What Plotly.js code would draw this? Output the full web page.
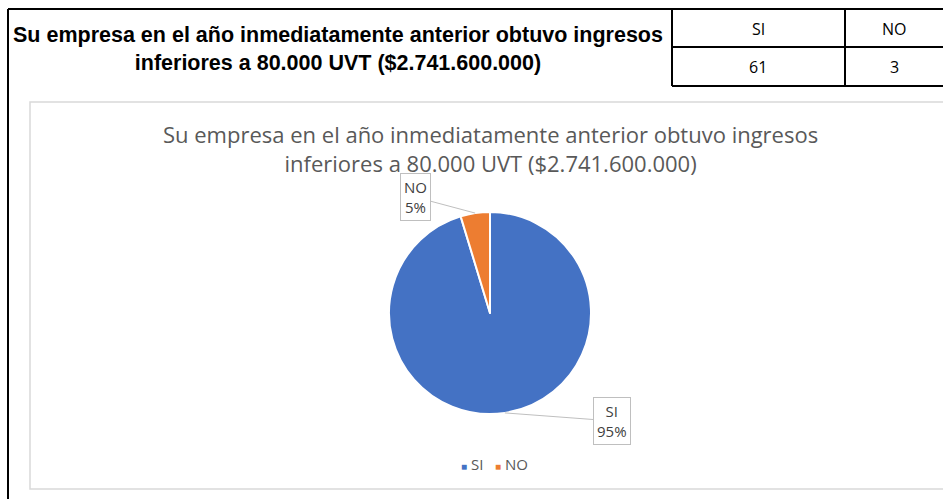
<!DOCTYPE html>
<html><head><meta charset="utf-8">
<script src="https://cdn.plot.ly/plotly-3.0.1.min.js"></script>
<style>html,body{margin:0;padding:0;background:#fff}#c{width:943px;height:499px}</style>
</head><body><div id="c"></div>
<script>
const questionLines = ["Su empresa en el año inmediatamente anterior obtuvo ingresos", "inferiores a 80.000 UVT ($2.741.600.000)"];
const categories = ["SI", "NO"];
const counts = [61, 3];
const colors = ["#4472C4", "#ED7D31"];

const W = 943, H = 499;
const px = x => x / W;
const py = y => 1 - y / H;

const total = counts.reduce((a, b) => a + b, 0);
const pcts = counts.map(v => Math.round(100 * v / total) + "%");

// pie geometry (layout only)
const cx = 490, cy = 313, r = 101;
let acc = 0;
const mids = counts.map(v => { const a0 = acc; acc += v; return ((a0 + v / 2) / total) * 2 * Math.PI; });
const edge = mids.map(a => [cx + r * Math.sin(a), cy - r * Math.cos(a)]);

const trace = {
  type: "pie",
  labels: categories,
  values: counts,
  sort: false,
  direction: "clockwise",
  rotation: 0,
  marker: { colors: colors, line: { color: "#ffffff", width: 2 } },
  textinfo: "none",
  hoverinfo: "none",
  showlegend: false,
  domain: { x: [px(cx - r), px(cx + r)], y: [py(cy + r), py(cy - r)] }
};

const black = { color: "#000000", width: 2 };
const shapes = [
  { type: "line", xref: "paper", yref: "paper", x0: px(8), y0: py(9), x1: px(943), y1: py(9), line: black },
  { type: "line", xref: "paper", yref: "paper", x0: px(8), y0: py(9), x1: px(8), y1: py(499), line: black },
  { type: "line", xref: "paper", yref: "paper", x0: px(672), y0: py(9), x1: px(672), y1: py(86), line: black },
  { type: "line", xref: "paper", yref: "paper", x0: px(845), y0: py(9), x1: px(845), y1: py(86), line: black },
  { type: "line", xref: "paper", yref: "paper", x0: px(672), y0: py(47), x1: px(943), y1: py(47), line: black },
  { type: "line", xref: "paper", yref: "paper", x0: px(672), y0: py(86), x1: px(943), y1: py(86), line: black },
  { type: "rect", xref: "paper", yref: "paper", x0: px(30), y0: py(102), x1: px(960), y1: py(489), line: { color: "#d9d9d9", width: 1.5 } }
];

const cellFont = { family: "Open Sans, sans-serif", size: 16, color: "#000" };
const chartFont = "Open Sans, sans-serif";
const cell = (x, y, t) => ({ xref: "paper", yref: "paper", x: px(x), y: py(y), xanchor: "center", yanchor: "middle", showarrow: false, text: t, font: cellFont });

const legendText = categories.map((c, i) =>
  '<span style="color:' + colors[i] + ';font-size:10px">■</span> ' + c).join("   ");

const annotations = [
  { xref: "paper", yref: "paper", x: px(338), y: py(48.5), xanchor: "center", yanchor: "middle", showarrow: false,
    text: "<b>" + questionLines[0] + "</b><br><b>" + questionLines[1] + "</b>", align: "center",
    font: { family: "Liberation Sans, Arial, sans-serif", size: 21.5, color: "#000" } },
  cell(758, 29, categories[0]),
  cell(894, 29, categories[1]),
  cell(758, 67.5, String(counts[0])),
  cell(894, 67.5, String(counts[1])),
  { xref: "paper", yref: "paper", x: px(490), y: py(148), xanchor: "center", yanchor: "middle", showarrow: false,
    text: questionLines[0] + "<br>" + questionLines[1], align: "center",
    font: { family: chartFont, size: 22, color: "#595959" } },
  { xref: "paper", yref: "paper", x: px(edge[1][0]), y: py(edge[1][1]), ax: -60, ay: -16,
    text: categories[1] + "<br>" + pcts[1], showarrow: true, arrowhead: 0, arrowwidth: 1, arrowcolor: "#bfbfbf",
    bordercolor: "#bfbfbf", borderwidth: 1, borderpad: 3, bgcolor: "#ffffff",
    font: { family: chartFont, size: 15, color: "#404040" } },
  { xref: "paper", yref: "paper", x: px(edge[0][0]), y: py(edge[0][1]), ax: 107, ay: 8,
    text: categories[0] + "<br>" + pcts[0], showarrow: true, arrowhead: 0, arrowwidth: 1, arrowcolor: "#bfbfbf",
    bordercolor: "#bfbfbf", borderwidth: 1, borderpad: 3, bgcolor: "#ffffff",
    font: { family: chartFont, size: 15, color: "#404040" } },
  { xref: "paper", yref: "paper", x: px(494), y: py(464), xanchor: "center", yanchor: "middle", showarrow: false,
    text: legendText, font: { family: chartFont, size: 15, color: "#595959" } }
];

const layout = {
  width: W, height: H,
  margin: { l: 0, r: 0, t: 0, b: 0 },
  paper_bgcolor: "#ffffff",
  showlegend: false,
  shapes: shapes,
  annotations: annotations
};

Plotly.newPlot("c", [trace], layout, { displayModeBar: false, staticPlot: true });
</script></body></html>
